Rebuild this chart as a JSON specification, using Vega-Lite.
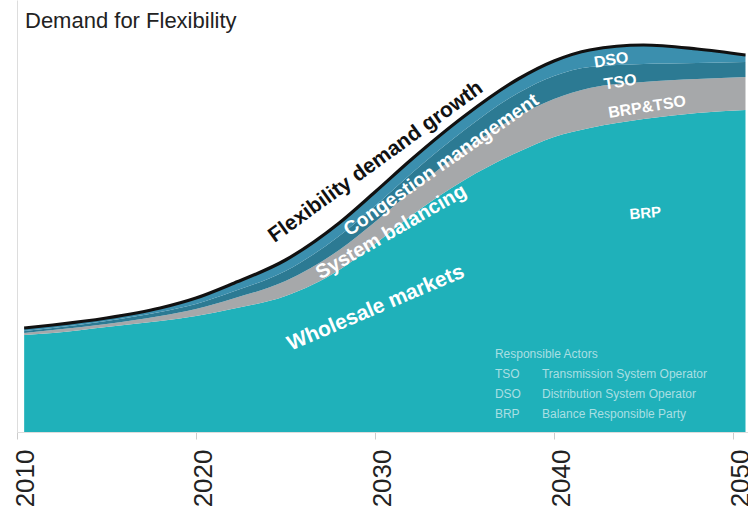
{
  "$schema": "https://vega.github.io/schema/vega-lite/v6.json",
  "width": 731,
  "height": 432,
  "autosize": "none",
  "padding": {"left": 17, "top": 0, "right": 0, "bottom": 80},
  "background": "white",
  "config": {"view": {"stroke": null}, "font": "Liberation Sans"},
  "title": {
    "text": "Demand for Flexibility",
    "anchor": "start",
    "frame": "group",
    "orient": "top",
    "offset": -27,
    "baseline": "alphabetic",
    "dx": 8,
    "dy": 23,
    "fontSize": 22,
    "font": "Liberation Sans",
    "fontWeight": "normal",
    "color": "#222222"
  },
  "datasets": {
    "actors": [
      {"actor": "BRP", "rank": 1},
      {"actor": "BRP&TSO", "rank": 2},
      {"actor": "TSO", "rank": 3},
      {"actor": "DSO", "rank": 4}
    ],
    "series": [
      {"year": 2010.4, "actor": "BRP", "value": 97}, {"year": 2010.4, "actor": "BRP&TSO", "value": 2}, {"year": 2010.4, "actor": "TSO", "value": 2}, {"year": 2010.4, "actor": "DSO", "value": 3},
      {"year": 2012, "actor": "BRP", "value": 99}, {"year": 2012, "actor": "BRP&TSO", "value": 3}, {"year": 2012, "actor": "TSO", "value": 2}, {"year": 2012, "actor": "DSO", "value": 3},
      {"year": 2015, "actor": "BRP", "value": 105}, {"year": 2015, "actor": "BRP&TSO", "value": 3}, {"year": 2015, "actor": "TSO", "value": 3}, {"year": 2015, "actor": "DSO", "value": 3},
      {"year": 2018, "actor": "BRP", "value": 111}, {"year": 2018, "actor": "BRP&TSO", "value": 5}, {"year": 2018, "actor": "TSO", "value": 4}, {"year": 2018, "actor": "DSO", "value": 4},
      {"year": 2020, "actor": "BRP", "value": 116}, {"year": 2020, "actor": "BRP&TSO", "value": 7}, {"year": 2020, "actor": "TSO", "value": 5}, {"year": 2020, "actor": "DSO", "value": 6},
      {"year": 2022, "actor": "BRP", "value": 123}, {"year": 2022, "actor": "BRP&TSO", "value": 10}, {"year": 2022, "actor": "TSO", "value": 7}, {"year": 2022, "actor": "DSO", "value": 8},
      {"year": 2025, "actor": "BRP", "value": 136}, {"year": 2025, "actor": "BRP&TSO", "value": 15}, {"year": 2025, "actor": "TSO", "value": 10}, {"year": 2025, "actor": "DSO", "value": 11},
      {"year": 2028, "actor": "BRP", "value": 162}, {"year": 2028, "actor": "BRP&TSO", "value": 20}, {"year": 2028, "actor": "TSO", "value": 14}, {"year": 2028, "actor": "DSO", "value": 13},
      {"year": 2030, "actor": "BRP", "value": 188}, {"year": 2030, "actor": "BRP&TSO", "value": 22}, {"year": 2030, "actor": "TSO", "value": 16}, {"year": 2030, "actor": "DSO", "value": 14},
      {"year": 2032, "actor": "BRP", "value": 216}, {"year": 2032, "actor": "BRP&TSO", "value": 24}, {"year": 2032, "actor": "TSO", "value": 18}, {"year": 2032, "actor": "DSO", "value": 14},
      {"year": 2035, "actor": "BRP", "value": 252}, {"year": 2035, "actor": "BRP&TSO", "value": 30}, {"year": 2035, "actor": "TSO", "value": 20}, {"year": 2035, "actor": "DSO", "value": 14},
      {"year": 2038, "actor": "BRP", "value": 280}, {"year": 2038, "actor": "BRP&TSO", "value": 36}, {"year": 2038, "actor": "TSO", "value": 23}, {"year": 2038, "actor": "DSO", "value": 14},
      {"year": 2040, "actor": "BRP", "value": 295}, {"year": 2040, "actor": "BRP&TSO", "value": 38}, {"year": 2040, "actor": "TSO", "value": 23}, {"year": 2040, "actor": "DSO", "value": 15},
      {"year": 2042, "actor": "BRP", "value": 304}, {"year": 2042, "actor": "BRP&TSO", "value": 40}, {"year": 2042, "actor": "TSO", "value": 21}, {"year": 2042, "actor": "DSO", "value": 17},
      {"year": 2045, "actor": "BRP", "value": 313}, {"year": 2045, "actor": "BRP&TSO", "value": 37}, {"year": 2045, "actor": "TSO", "value": 18}, {"year": 2045, "actor": "DSO", "value": 19},
      {"year": 2048, "actor": "BRP", "value": 319}, {"year": 2048, "actor": "BRP&TSO", "value": 34}, {"year": 2048, "actor": "TSO", "value": 16}, {"year": 2048, "actor": "DSO", "value": 14},
      {"year": 2050.7, "actor": "BRP", "value": 322}, {"year": 2050.7, "actor": "BRP&TSO", "value": 33}, {"year": 2050.7, "actor": "TSO", "value": 15}, {"year": 2050.7, "actor": "DSO", "value": 7}
    ]
  },
  "encoding": {
    "x": {
      "field": "year",
      "type": "quantitative",
      "scale": {"domain": [2010, 2050.84], "nice": false, "zero": false},
      "axis": {
        "values": [2010, 2020, 2030, 2040, 2050],
        "format": "d",
        "title": null,
        "grid": false,
        "labelAngle": 270,
        "labelFontSize": 26,
        "labelFont": "Liberation Sans",
        "labelColor": "#222222",
        "labelPadding": 10,
        "labelOffset": 8,
        "labelFlush": false,
        "labelOverlap": false,
        "labelBound": false,
        "domainColor": "#dddddd",
        "tickColor": "#cccccc",
        "tickSize": 7
      }
    },
    "y": {
      "type": "quantitative",
      "scale": {"domain": [0, 432], "nice": false},
      "axis": {"title": null, "labels": false, "ticks": false, "grid": false, "domainColor": "#dddddd"}
    }
  },
  "layer": [
    {
      "data": {"name": "series"},
      "transform": [{"lookup": "actor", "from": {"data": {"name": "actors"}, "key": "actor", "fields": ["rank"]}}],
      "mark": {"type": "area", "interpolate": "monotone"},
      "encoding": {
        "y": {"field": "value", "type": "quantitative", "stack": "zero"},
        "order": {"field": "rank", "type": "quantitative", "sort": "ascending"},
        "color": {
          "field": "actor",
          "type": "nominal",
          "scale": {"domain": ["BRP", "BRP&TSO", "TSO", "DSO"], "range": ["#1fb1ba", "#a6a8aa", "#2c7a93", "#3b8fae"]},
          "legend": null
        }
      }
    },
    {
      "data": {"name": "series"},
      "transform": [{"aggregate": [{"op": "sum", "field": "value", "as": "total"}], "groupby": ["year"]}],
      "mark": {"type": "line", "interpolate": "monotone", "color": "#111111", "strokeWidth": 3.2},
      "encoding": {"y": {"field": "total", "type": "quantitative"}}
    },
    {
      "data": {"values": [{"year": 2030.05, "value": 270, "label": "Flexibility demand growth"}]},
      "mark": {"type": "text", "angle": -36, "fontSize": 21, "fontWeight": "bold", "font": "Liberation Sans", "color": "#111111"},
      "encoding": {"y": {"field": "value", "type": "quantitative"}, "text": {"field": "label"}}
    },
    {
      "data": {"values": [{"year": 2033.7, "value": 267, "label": "Congestion management"}]},
      "mark": {"type": "text", "angle": -35, "fontSize": 19.5, "fontWeight": "bold", "font": "Liberation Sans", "color": "#ffffff"},
      "encoding": {"y": {"field": "value", "type": "quantitative"}, "text": {"field": "label"}}
    },
    {
      "data": {"values": [{"year": 2030.9, "value": 200, "label": "System balancing"}]},
      "mark": {"type": "text", "angle": -30, "fontSize": 20, "fontWeight": "bold", "font": "Liberation Sans", "color": "#ffffff"},
      "encoding": {"y": {"field": "value", "type": "quantitative"}, "text": {"field": "label"}}
    },
    {
      "data": {"values": [{"year": 2030.05, "value": 124, "label": "Wholesale markets"}]},
      "mark": {"type": "text", "angle": -23, "fontSize": 21, "fontWeight": "bold", "font": "Liberation Sans", "color": "#ffffff"},
      "encoding": {"y": {"field": "value", "type": "quantitative"}, "text": {"field": "label"}}
    },
    {
      "data": {"values": [
        {"year": 2043.2, "value": 372, "label": "DSO"},
        {"year": 2043.7, "value": 350, "label": "TSO"},
        {"year": 2045.2, "value": 325, "label": "BRP&TSO"}
      ]},
      "mark": {"type": "text", "angle": -9, "fontSize": 16, "fontWeight": "bold", "font": "Liberation Sans", "color": "#ffffff"},
      "encoding": {"y": {"field": "value", "type": "quantitative"}, "text": {"field": "label"}}
    },
    {
      "data": {"values": [{"year": 2045.1, "value": 219, "label": "BRP"}]},
      "mark": {"type": "text", "angle": -5, "fontSize": 15, "fontWeight": "bold", "font": "Liberation Sans", "color": "#ffffff"},
      "encoding": {"y": {"field": "value", "type": "quantitative"}, "text": {"field": "label"}}
    },
    {
      "data": {"values": [
        {"year": 2036.7, "value": 78, "label": "Responsible Actors"},
        {"year": 2036.7, "value": 58, "label": "TSO"},
        {"year": 2036.7, "value": 38, "label": "DSO"},
        {"year": 2036.7, "value": 18, "label": "BRP"},
        {"year": 2039.33, "value": 58, "label": "Transmission System Operator"},
        {"year": 2039.33, "value": 38, "label": "Distribution System Operator"},
        {"year": 2039.33, "value": 18, "label": "Balance Responsible Party"}
      ]},
      "mark": {"type": "text", "align": "left", "baseline": "middle", "fontSize": 12, "font": "Liberation Sans", "color": "#a9dfe3"},
      "encoding": {"y": {"field": "value", "type": "quantitative"}, "text": {"field": "label"}}
    }
  ]
}
